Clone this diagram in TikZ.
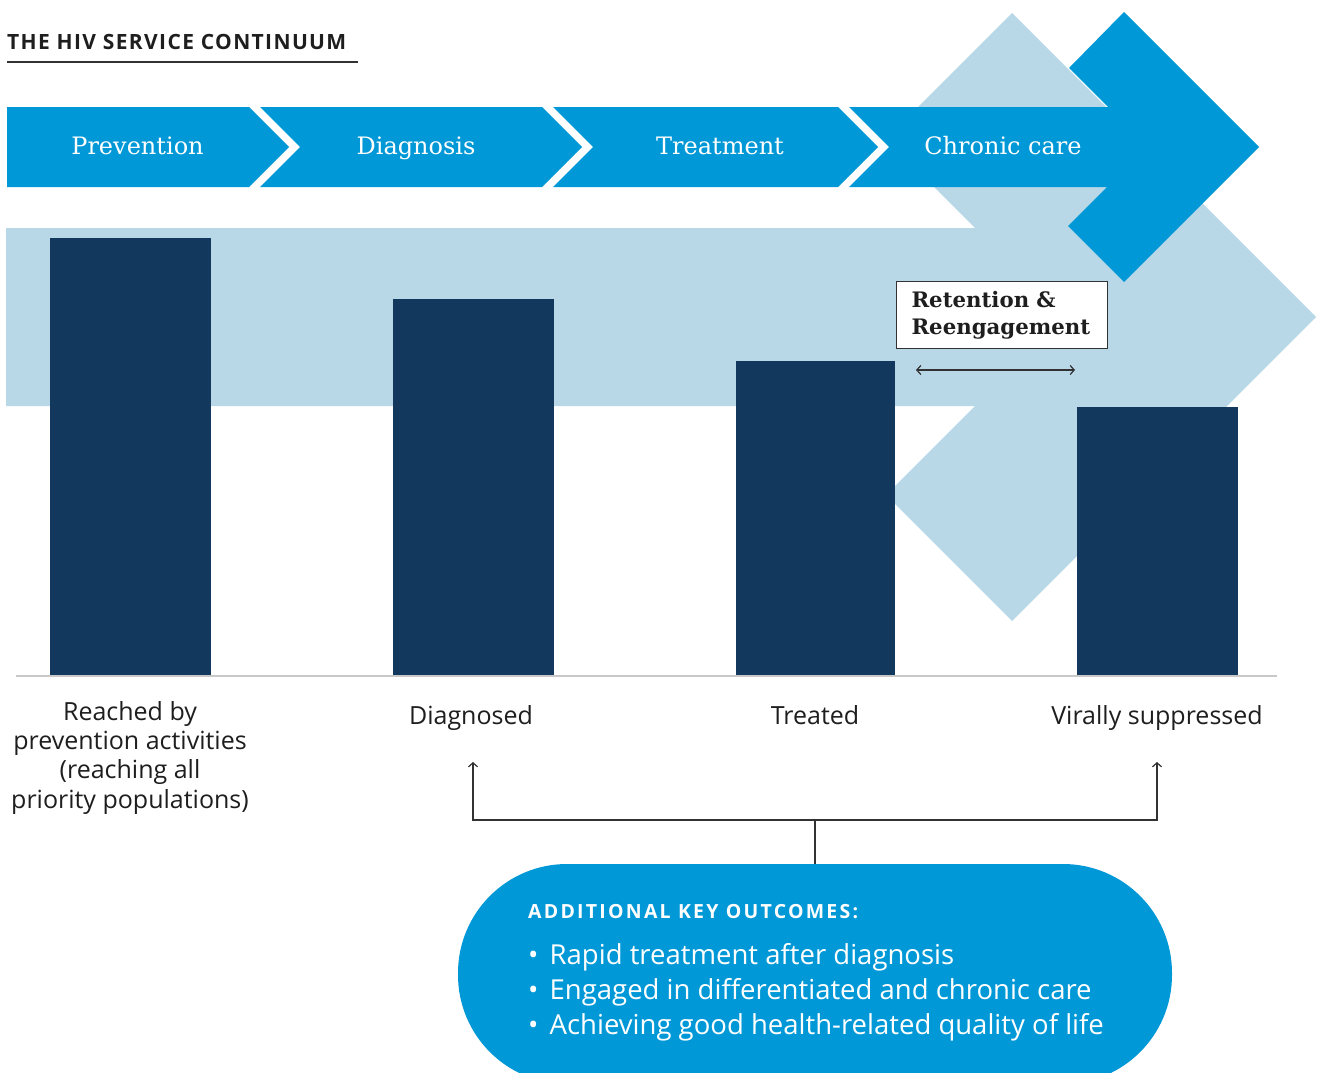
\documentclass[tikz,border=0pt]{standalone}
\usepackage{fontspec}
\setmainfont{Open Sans}
\newfontfamily\serifface{DejaVu Serif}
\newfontfamily\spacedA[LetterSpace=6.5]{Open Sans}
\newfontfamily\spacedB[LetterSpace=11.5]{Open Sans}
\usetikzlibrary{arrows.meta}
\definecolor{midblue}{RGB}{0,152,214}
\definecolor{lightblue}{RGB}{184,216,232}
\definecolor{navy}{RGB}{18,57,93}
\definecolor{txt}{RGB}{30,30,30}
\definecolor{baseln}{RGB}{200,200,200}
\definecolor{linec}{RGB}{50,50,50}
\begin{document}
\begin{tikzpicture}[x=1pt,y=-1pt,
  stage/.style={text=white, inner sep=0, font=\serifface\fontsize{24}{28}\selectfont, anchor=base},
  barlabel/.style={text=txt, inner sep=0, font=\fontsize{25}{29.3}\selectfont, anchor=base, align=center},
  outtext/.style={text=white, inner sep=0, anchor=base west, font=\fontsize{27.5}{35}\selectfont},
  conn/.style={draw=linec, line width=1.2pt},
  tipend/.style={-{Straight Barb[length=4pt,width=9pt]}},
  twotip/.style={{Straight Barb[length=4pt,width=9pt]}-{Straight Barb[length=4pt,width=9pt]}}
]
\clip (0,0) rectangle (1320,1073);
\fill[white] (0,0) rectangle (1320,1073);

% title
\node[anchor=base west, inner sep=0, text=txt, font=\spacedA\bfseries\fontsize{21}{25}\selectfont] (title) at (7,50) {THE HIV SERVICE CONTINUUM};
\draw[line width=1.3pt, draw=linec] (7,62) -- (358,62);

% big light-blue arrow
\fill[lightblue] (6,228) -- (975,228) -- (886,139) -- (1012,13) -- (1316,317) -- (1012,621) -- (886,495) -- (975,406) -- (6,406) -- cycle;

% chevrons
\fill[midblue] (7,107) -- (249,107) -- (289,147) -- (249,187) -- (7,187) -- cycle;
\fill[midblue] (260,107) -- (542,107) -- (582,147) -- (542,187) -- (260,187) -- (300,147) -- cycle;
\fill[midblue] (553,107) -- (838,107) -- (878,147) -- (838,187) -- (553,187) -- (593,147) -- cycle;
\fill[midblue] (849,107) -- (1108,107) -- (1069,68) -- (1124,12) -- (1259,147) -- (1124,282) -- (1068,226) -- (1107,187) -- (849,187) -- (889,147) -- cycle;

\node[stage] (prev) at (137.5,154) {Prevention};
\node[stage] (diag) at (416,154) {Diagnosis};
\node[stage] (treat) at (720,154) {Treatment};
\node[stage] (chron) at (1003,154) {Chronic care};

% bars
\fill[navy] (50,238) rectangle (211,675);
\fill[navy] (393,299) rectangle (554,675);
\fill[navy] (736,361) rectangle (895,675);
\fill[navy] (1077,407) rectangle (1238,675);
\draw[baseln, line width=1.3pt] (16,676) -- (1277,676);

% retention box
\node[draw=linec, line width=1pt, fill=white, anchor=north west, text width=181pt, inner xsep=15pt, inner ysep=0pt,
      minimum height=67pt, align=left, text=txt, font=\serifface\bfseries\fontsize{21.3}{27}\selectfont] (ret) at (896,281) {Retention \&\\Reengagement};
\coordinate (rl) at (916,370);
\coordinate (rr) at (1075,370);
\draw[conn, twotip] (rl) -- (rr);

% bar labels
\node[barlabel] (l1) at (130,808) {Reached by\\prevention activities\\(reaching all\\priority populations)};
\node[barlabel] (l2) at (471,724) {Diagnosed};
\node[barlabel] (l3) at (815,724) {Treated};
\node[barlabel] (l4) at (1157,724) {Virally suppressed};

% outcomes box
\node[fill=midblue, rounded corners=109pt, minimum width=714pt, minimum height=220pt, inner sep=0] (outc) at (815,974) {};
\node[anchor=base west, inner sep=0, text=white, font=\spacedB\bfseries\fontsize{19.5}{22}\selectfont] (okh) at (528,918) {ADDITIONAL KEY OUTCOMES:};
\node[outtext] (o1) at (528,964) {•\kern4pt\ Rapid treatment after diagnosis};
\node[outtext] (o2) at (528,999) {•\kern4pt\ Engaged in differentiated and chronic care};
\node[outtext] (o3) at (528,1034) {•\kern4pt\ Achieving good health-related quality of life};

% bracket connectors
\coordinate (j) at (815,820);
\coordinate (a1) at (473,762);
\coordinate (a2) at (1157,762);
\draw[conn] (outc.north) -- (j);
\draw[conn, tipend] (j) -| (a1);
\draw[conn, tipend] (j) -| (a2);
\end{tikzpicture}
\end{document}
